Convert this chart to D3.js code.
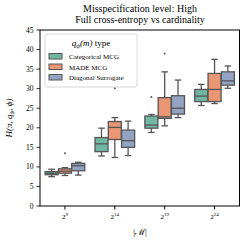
<!DOCTYPE html>
<html>
<head>
<meta charset="utf-8">
<script src="https://cdn.jsdelivr.net/npm/d3@7"></script>
</head>
<body style="margin:0; background:#fff">
<svg id="chart"></svg>
<script>
// exponents of |M| on the x axis
const exponents = ['9', '14', '19', '24']
const seriesNames = ['Categorical MCG', 'MADE MCG', 'Diagonal Surrogate']
const seriesColors = ['#71b7a1', '#e99675', '#95a3c3']

// [whisker low, q1, median, q3, whisker high] for each group
const categorical = [[7.5, 8.0, 8.4, 8.8, 9.4], [12.8, 13.9, 15.9, 17.5, 19.9], [18.8, 19.9, 20.7, 23.0, 23.4], [25.7, 26.7, 28.1, 29.8, 31.1]]
const made = [[7.8, 8.4, 8.9, 9.5, 9.8], [12.4, 17.0, 20.1, 21.6, 22.6], [20.5, 22.4, 22.8, 27.7, 34.3], [26.2, 26.7, 29.8, 33.9, 37.5]]
const diagonal = [[7.9, 9.0, 10.3, 10.9, 11.2], [12.9, 15.0, 16.7, 19.4, 21.7], [22.6, 23.5, 25.0, 28.2, 32.2], [30.1, 30.9, 32.0, 34.3, 35.8]]

const categoricalOutliers = [[], [], [27.9], []]
const madeOutliers = [[13.5], [30.1], [39.0], []]
const diagonalOutliers = [[], [], [], []]

const yTicks = [0, 5, 10, 15, 20, 25, 30, 35, 40, 45]

const W = 244, H = 244
const margin = { left: 40, right: 4.5, top: 30, bottom: 38 }
const LINE = '#555'

const svg = d3.select('#chart').attr('width', W).attr('height', H)

const x = d3.scaleBand().domain(exponents).range([margin.left, W - margin.right])
const inner = d3.scaleBand().domain(seriesNames).range([0, x.bandwidth() * 0.8])
const y = d3.scaleLinear().domain([0, 45]).range([H - margin.bottom, margin.top])

// y axis
const yg = svg.append('g').attr('transform', `translate(${margin.left},0)`)
const yTick = yg.selectAll('g.ytick').data(yTicks).join('g')
  .attr('class', 'ytick').attr('transform', d => `translate(0,${y(d)})`)
yTick.append('line').attr('x1', -3.5).attr('x2', 0).attr('stroke', '#000').attr('stroke-width', 0.8)
yTick.append('text').attr('x', -6.5).attr('y', 2.5).attr('text-anchor', 'end')
  .attr('font-size', 7.5).attr('fill', '#000').text(d => d)

// title
svg.append('text').attr('x', 140).attr('y', 12).attr('text-anchor', 'middle')
  .attr('font-size', 10).text('Misspecification level: High')
svg.append('text').attr('x', 140).attr('y', 23).attr('text-anchor', 'middle')
  .attr('font-size', 10).text('Full cross-entropy vs cardinality')

// x axis
const xAxis = d3.axisBottom(x).tickSize(3.5).tickPadding(3).tickFormat('')
const xg = svg.append('g').attr('transform', `translate(0,${H - margin.bottom})`).call(xAxis)
xg.select('.domain').remove()
xg.selectAll('.tick').append('text')
  .attr('y', 13).attr('fill', '#000').attr('text-anchor', 'middle').attr('font-size', 7).attr('font-family', 'Liberation Serif')
  .call(t => t.append('tspan').text('2'))
  .call(t => t.append('tspan').attr('dy', -3).attr('font-size', 5).text(d => d))

// frame
svg.append('rect')
  .attr('x', margin.left).attr('y', margin.top)
  .attr('width', W - margin.right - margin.left).attr('height', H - margin.bottom - margin.top)
  .attr('fill', 'none').attr('stroke', '#000').attr('stroke-width', 1)

// boxes
const allStats = [categorical, made, diagonal]
const allOutliers = [categoricalOutliers, madeOutliers, diagonalOutliers]
const groupOffset = x.bandwidth() * 0.1

seriesNames.forEach((name, si) => {
  const g = svg.append('g')
  const bw = inner.bandwidth() * 0.98
  exponents.forEach((e, gi) => {
    const [lo, q1, med, q3, hi] = allStats[si][gi]
    const x0 = x(e) + groupOffset + inner(name) + inner.bandwidth() * 0.01
    const cx = x0 + bw / 2
    // whiskers
    g.append('line').attr('x1', cx).attr('x2', cx).attr('y1', y(q3)).attr('y2', y(hi)).attr('stroke', LINE).attr('stroke-width', 1.3)
    g.append('line').attr('x1', cx).attr('x2', cx).attr('y1', y(q1)).attr('y2', y(lo)).attr('stroke', LINE).attr('stroke-width', 1.3)
    g.append('line').attr('x1', cx - bw / 4).attr('x2', cx + bw / 4).attr('y1', y(hi)).attr('y2', y(hi)).attr('stroke', LINE).attr('stroke-width', 1.3)
    g.append('line').attr('x1', cx - bw / 4).attr('x2', cx + bw / 4).attr('y1', y(lo)).attr('y2', y(lo)).attr('stroke', LINE).attr('stroke-width', 1.3)
    g.append('rect').attr('x', x0).attr('y', y(q3)).attr('width', bw).attr('height', y(q1) - y(q3))
      .attr('fill', seriesColors[si]).attr('stroke', LINE).attr('stroke-width', 1.3)
    g.append('line').attr('x1', x0).attr('x2', x0 + bw).attr('y1', y(med)).attr('y2', y(med)).attr('stroke', LINE).attr('stroke-width', 1.3)
    allOutliers[si][gi].forEach(v => {
      g.append('circle').attr('cx', cx).attr('cy', y(v)).attr('r', 1).attr('fill', LINE)
    })
  })
})

// axis labels
svg.append('text').attr('x', 140).attr('y', 235).attr('text-anchor', 'middle').attr('font-size', 9)
  .text('|ℳ|')
const yl = svg.append('text').attr('transform', `translate(12,${(margin.top + H - margin.bottom) / 2}) rotate(-90)`)
  .attr('text-anchor', 'middle').attr('font-size', 9).attr('font-style', 'italic')
yl.append('tspan').text('H(π, q')
yl.append('tspan').attr('dy', 2).attr('font-size', 6).text('ψ')
yl.append('tspan').attr('dy', -2).text(', ϕ)')

// legend
const lg = svg.append('g').attr('transform', 'translate(45,34)')
lg.append('rect').attr('width', 92).attr('height', 53).attr('rx', 2)
  .attr('fill', '#fff').attr('fill-opacity', 0.8).attr('stroke', '#ccc').attr('stroke-width', 0.8)
const lt = lg.append('text').attr('x', 46).attr('y', 12).attr('text-anchor', 'middle').attr('font-size', 9)
lt.append('tspan').attr('font-style', 'italic').text('q')
lt.append('tspan').attr('dy', 2).attr('font-size', 6).attr('font-style', 'italic').text('ψ')
lt.append('tspan').attr('dy', -2).attr('font-style', 'italic').text('(m)')
lt.append('tspan').text(' type')
seriesNames.forEach((name, i) => {
  const yy = 19.5 + i * 10.5
  lg.append('rect').attr('x', 4).attr('y', yy).attr('width', 13).attr('height', 5.5)
    .attr('fill', seriesColors[i]).attr('stroke', LINE).attr('stroke-width', 1)
  lg.append('text').attr('x', 24).attr('y', yy + 5.5).attr('font-size', 7).text(name)
})
</script>
</body>
</html>
